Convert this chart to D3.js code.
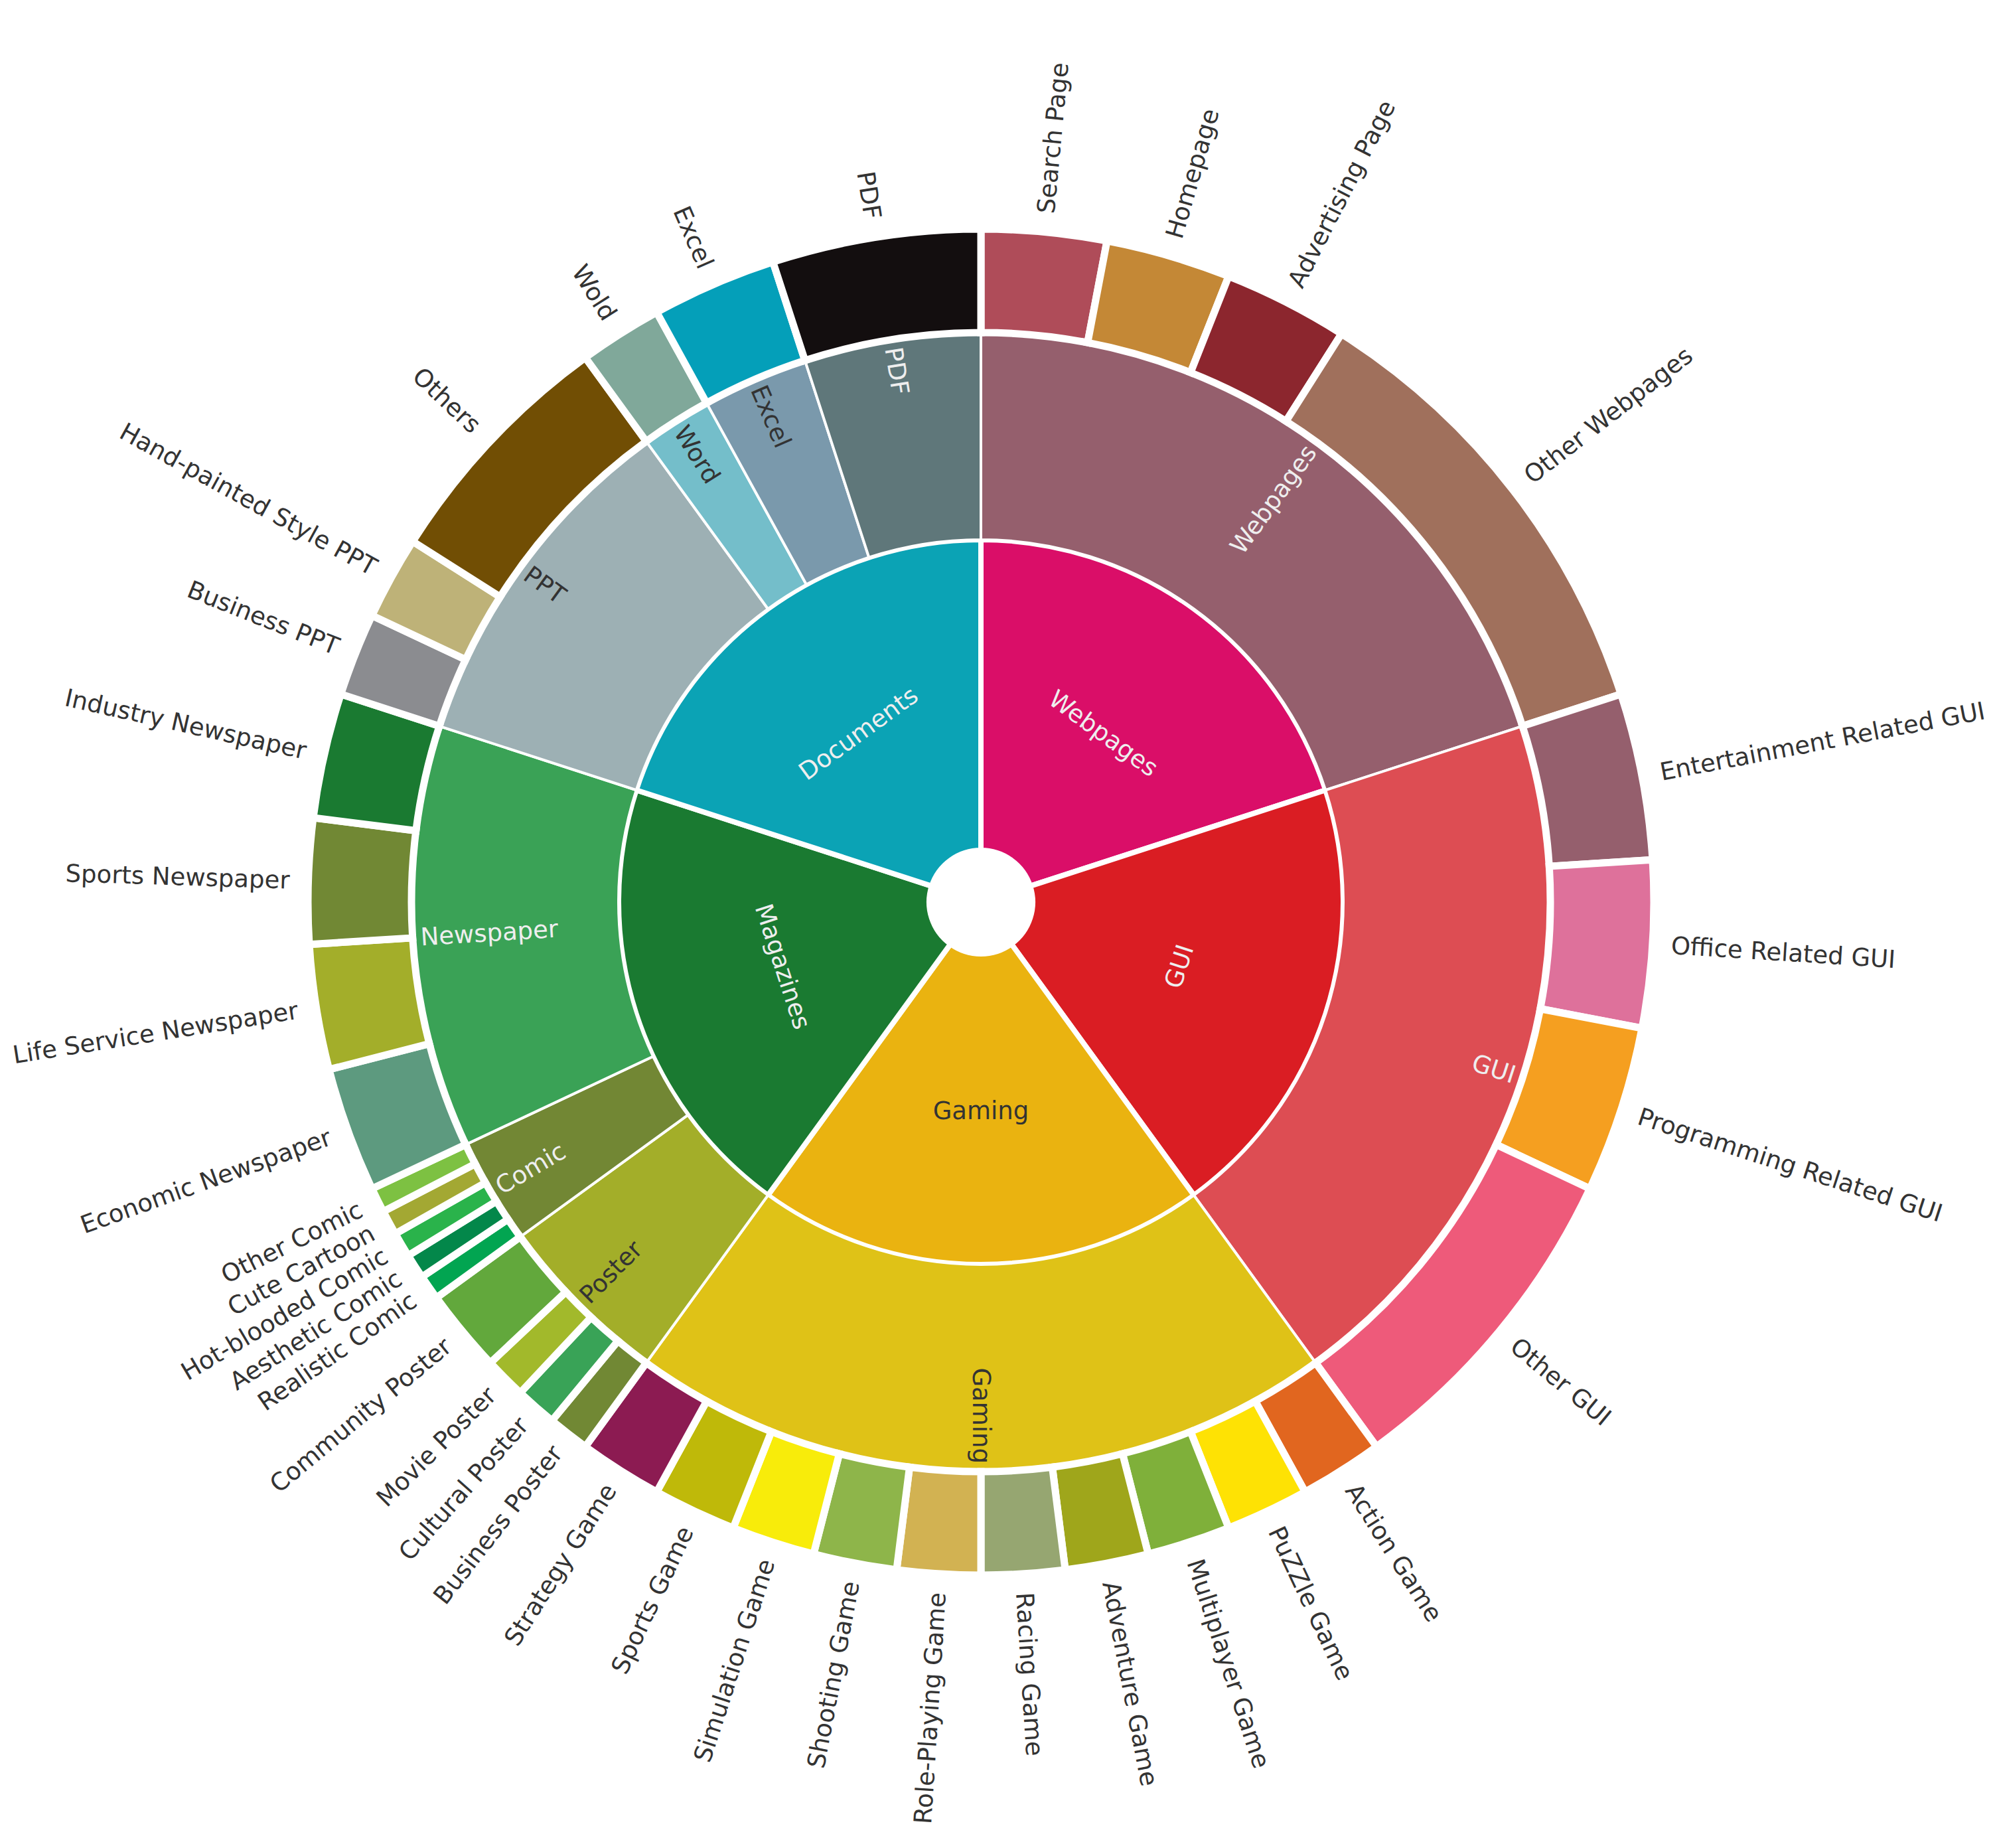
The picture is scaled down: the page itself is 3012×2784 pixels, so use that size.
<!DOCTYPE html>
<html>
<head>
<meta charset="utf-8">
<script src="https://cdn.jsdelivr.net/npm/d3@7"></script>
<style>
html, body { margin: 0; padding: 0; background: #ffffff; }
svg { display: block; }
</style>
</head>
<body>
<svg id="chart" width="3012" height="2784"></svg>
<script>
// ---------------- DATA ----------------
const categories = ["Webpages", "GUI", "Gaming", "Magazines", "Documents"];
const categoryColors = ["#DA0E68", "#DA1D23", "#EAB310", "#1A7A31", "#0BA3B5"];

const subcategories = ["Webpages", "GUI", "Gaming", "Poster", "Comic", "Newspaper", "PPT", "Word", "Excel", "PDF"];
const subcategoryParent = [0, 1, 2, 3, 3, 3, 4, 4, 4, 4];
const subcategoryColors = ["#955F6D", "#DD4D53", "#DFC217", "#A3AE29", "#728734", "#3AA256", "#9DB0B4", "#74BECA", "#7A99AC", "#5F777A"];

const items = [
  "Search Page", "Homepage", "Advertising Page", "Other Webpages",
  "Entertainment Related GUI", "Office Related GUI", "Programming Related GUI", "Other GUI",
  "Action Game", "PuZZle Game", "Multiplayer Game", "Adventure Game", "Racing Game",
  "Role-Playing Game", "Shooting Game", "Simulation Game", "Sports Game", "Strategy Game",
  "Business Poster", "Cultural Poster", "Movie Poster", "Community Poster",
  "Realistic Comic", "Aesthetic Comic", "Hot-blooded Comic", "Cute Cartoon", "Other Comic",
  "Economic Newspaper", "Life Service Newspaper", "Sports Newspaper", "Industry Newspaper",
  "Business PPT", "Hand-painted Style PPT", "Others",
  "Wold", "Excel", "PDF"
];
const itemParent = [
  0, 0, 0, 0,
  1, 1, 1, 1,
  2, 2, 2, 2, 2, 2, 2, 2, 2, 2,
  3, 3, 3, 3,
  4, 4, 4, 4, 4,
  5, 5, 5, 5,
  6, 6, 6,
  7, 8, 9
];
const itemValues = [
  3, 3, 3, 11,
  4, 4, 4, 8,
  2, 2, 2, 2, 2, 2, 2, 2, 2, 2,
  1, 1, 1, 2,
  0.6, 0.6, 0.6, 0.6, 0.6,
  3, 3, 3, 3,
  2, 2, 6,
  2, 3, 5
];
const itemColors = [
  "#AF4C59", "#C48836", "#8C262E", "#A0705C",
  "#955F6D", "#DE719B", "#F59F20", "#EE5A7A",
  "#E1661F", "#FEE204", "#7FB03A", "#9FA61B", "#96A671",
  "#D2B252", "#8EB54A", "#F8EC0A", "#BFB909", "#8C1B52",
  "#718834", "#39A357", "#A2B92B", "#62A83C",
  "#02A551", "#03874A", "#2AB34B", "#A3A833", "#7DC142",
  "#5D9A7F", "#A3AE2A", "#718834", "#1A7A31",
  "#8B8C90", "#BEB278", "#714E04",
  "#80A89A", "#049FB9", "#130E0F"
];

// ---------------- HIERARCHY ----------------
const rootData = {
  name: "root",
  children: categories.map((c, i) => ({
    name: c, color: categoryColors[i],
    children: subcategories.map((s, j) => ({ s, j }))
      .filter(o => subcategoryParent[o.j] === i)
      .map(o => ({
        name: o.s, color: subcategoryColors[o.j],
        children: items.map((t, k) => ({ t, k }))
          .filter(p => itemParent[p.k] === o.j)
          .map(p => ({ name: p.t, color: itemColors[p.k], value: itemValues[p.k] }))
      }))
  }))
};

const root = d3.hierarchy(rootData).sum(d => d.value || 0);
d3.partition().size([2 * Math.PI, 3])(root);

// ---------------- LAYOUT ----------------
const cx = 1478, cy = 1359;
const ringRadii = { 1: [78, 546], 2: [546, 858], 3: [858, 1014] };
const ringStroke = { 1: 8, 2: 4, 3: 11 };
const fontSize = 37;

const svg = d3.select("#chart");
const g = svg.append("g").attr("transform", `translate(${cx},${cy})`);

const arc = d3.arc()
  .startAngle(d => d.x0)
  .endAngle(d => d.x1)
  .innerRadius(d => ringRadii[d.depth][0])
  .outerRadius(d => ringRadii[d.depth][1]);

[1, 2, 3].forEach(depth => {
  g.append("g").selectAll("path")
    .data(root.descendants().filter(d => d.depth === depth))
    .join("path")
    .attr("d", arc)
    .attr("fill", d => d.data.color)
    .attr("stroke", "#ffffff")
    .attr("stroke-width", ringStroke[depth])
    .attr("stroke-linejoin", "miter");
});

function textColor(hex) {
  const c = d3.rgb(hex);
  const b = 0.299 * c.r + 0.587 * c.g + 0.114 * c.b;
  return b < 135 ? "#EEEEEE" : "#333333";
}

const labels = g.append("g")
  .attr("font-family", "DejaVu Sans, sans-serif")
  .attr("font-size", fontSize);

function pos(angle, r) {
  return [r * Math.sin(angle), -r * Math.cos(angle)];
}

// inner labels: tangential, centered
root.descendants().filter(d => d.depth === 1).forEach(d => {
  const a = (d.x0 + d.x1) / 2;
  const deg = a * 180 / Math.PI;
  let rot = deg;
  if (deg > 90 + 1e-6 && deg < 270 - 1e-6) rot = deg - 180;
  if (Math.abs(deg - 180) < 1e-6) rot = 0;
  const [x, y] = pos(a, 314);
  labels.append("text")
    .attr("transform", `translate(${x},${y}) rotate(${rot})`)
    .attr("text-anchor", "middle")
    .attr("dominant-baseline", "central")
    .attr("fill", textColor(d.data.color))
    .text(d.data.name);
});

// radial labels for middle and outer rings
function radialLabel(d, r, inside) {
  const a = (d.x0 + d.x1) / 2;
  const deg = a * 180 / Math.PI;
  const flip = deg > 180 + 1e-6;
  const rot = flip ? deg - 270 : deg - 90;
  const [x, y] = pos(a, r);
  let anchor;
  if (inside) anchor = flip ? "start" : "end";
  else anchor = flip ? "end" : "start";
  labels.append("text")
    .attr("transform", `translate(${x},${y}) rotate(${rot})`)
    .attr("text-anchor", anchor)
    .attr("dominant-baseline", "central")
    .attr("fill", inside ? textColor(d.data.color) : "#333333")
    .text(d.data.name);
}

root.descendants().filter(d => d.depth === 2).forEach(d => radialLabel(d, 846, true));
root.descendants().filter(d => d.depth === 3).forEach(d => radialLabel(d, 1042, false));
</script>
</body>
</html>
